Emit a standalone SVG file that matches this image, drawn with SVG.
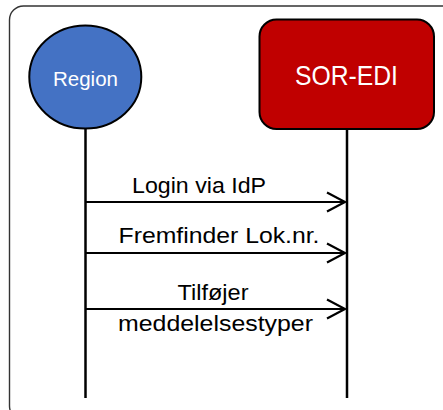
<svg xmlns="http://www.w3.org/2000/svg" width="443" height="410" viewBox="0 0 443 410">
<style>
.lbl{font-family:"Liberation Sans",Arial,sans-serif;font-size:22.5px;fill:#000;text-anchor:middle}
.wt{font-family:"Liberation Sans",Arial,sans-serif;fill:#fff;text-anchor:middle}
.life{stroke:#000;stroke-width:2.5;fill:none}
.msg{stroke:#000;stroke-width:2.2;fill:none}
.head{stroke:#000;stroke-width:2.2;fill:none;stroke-linejoin:miter}
</style>
<rect x="9.5" y="6" width="446" height="414" rx="14" fill="#fff" stroke="#333" stroke-width="1.4"/>
<g id="connectors">
<line class="life" x1="85.5" y1="129" x2="85.5" y2="398"/>
<line class="life" x1="347" y1="129" x2="347" y2="398"/>
<line class="msg" x1="85.5" y1="202" x2="344" y2="202"/>
<polyline class="head" points="327,192.5 345,202 327,211.5"/>
<line class="msg" x1="85.5" y1="253" x2="344" y2="253"/>
<polyline class="head" points="327,243.5 345,253 327,262.5"/>
<line class="msg" x1="85.5" y1="309" x2="344" y2="309"/>
<polyline class="head" points="327,299.5 345,309 327,318.5"/>
<text class="lbl" x="199" y="192.5" textLength="134" lengthAdjust="spacingAndGlyphs">Login via IdP</text>
<text class="lbl" x="219" y="243" textLength="201" lengthAdjust="spacingAndGlyphs">Fremfinder Lok.nr.</text>
<text class="lbl" x="213" y="300" textLength="71" lengthAdjust="spacingAndGlyphs">Tilføjer</text>
<text class="lbl" x="215.5" y="331" textLength="195" lengthAdjust="spacingAndGlyphs">meddelelsestyper</text>
</g>
<g id="region">
<ellipse cx="85.3" cy="77" rx="56" ry="51.5" fill="#4472C4" stroke="#000" stroke-width="2"/>
<text class="wt" x="85.5" y="86" font-size="21" textLength="65" lengthAdjust="spacingAndGlyphs">Region</text>
</g>
<g id="sor-edi">
<rect x="259.5" y="19.5" width="174.5" height="109.5" rx="17" fill="#C00000" stroke="#000" stroke-width="2"/>
<text class="wt" x="346.5" y="84.5" font-size="28" textLength="103" lengthAdjust="spacingAndGlyphs">SOR-EDI</text>
</g>
</svg>
